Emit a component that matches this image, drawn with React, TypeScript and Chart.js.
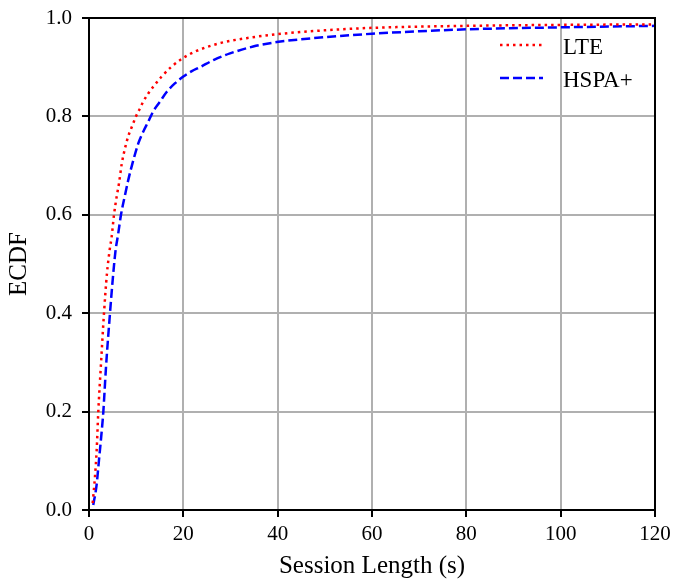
import React, { useEffect, useRef } from "react";
import { Chart, registerables } from "chart.js";

Chart.register(...registerables);

// Session length (s) / ECDF readings — LTE
const lteX = [0.78, 1.27, 1.63, 1.97, 2.5, 3.18, 3.8, 4.4, 4.8, 5.3, 5.87, 6.36, 6.93, 7.63, 8.33, 9.05, 9.96, 10.8, 11.5, 12.6, 13.6, 15.4, 17.5, 20.0, 22.8, 27.8, 33.4, 39.8, 50, 60, 80, 100, 120];
const lteY = [0.014, 0.068, 0.122, 0.2, 0.29, 0.4, 0.48, 0.53, 0.555, 0.6, 0.637, 0.664, 0.703, 0.735, 0.76, 0.778, 0.8, 0.816, 0.83, 0.847, 0.86, 0.881, 0.901, 0.919, 0.933, 0.949, 0.959, 0.967, 0.975, 0.98, 0.984, 0.986, 0.987];

// HSPA+
const hspaX = [0.9, 1.6, 2.1, 2.6, 3.04, 3.6, 4.45, 5.0, 5.6, 6.2, 6.78, 7.63, 8.33, 9.4, 10.45, 11.5, 12.6, 13.6, 15.05, 16.5, 18.2, 20.0, 21.8, 23.5, 26.5, 29.9, 34.8, 39.8, 50, 60, 70, 80, 100, 120];
const hspaY = [0.01, 0.05, 0.1, 0.15, 0.2, 0.29, 0.4, 0.465, 0.525, 0.562, 0.6, 0.64, 0.671, 0.711, 0.745, 0.769, 0.79, 0.81, 0.83, 0.85, 0.867, 0.881, 0.892, 0.9, 0.915, 0.928, 0.942, 0.951, 0.961, 0.968, 0.973, 0.977, 0.981, 0.984];

const seriesLabels = ["LTE", "HSPA+"];
const xTickValues = [0, 20, 40, 60, 80, 100, 120];
const yTickValues = [0, 0.2, 0.4, 0.6, 0.8, 1.0];

const FONT = "'Liberation Serif', 'Times New Roman', serif";

const toPoints = (xs: number[], ys: number[]) => xs.map((x, i) => ({ x, y: ys[i] }));

const framePlugin = {
  id: "frame",
  afterDatasetsDraw(chart: any) {
    const { ctx, chartArea } = chart;
    ctx.save();
    ctx.strokeStyle = "#000";
    ctx.lineWidth = 2;
    ctx.strokeRect(chartArea.left, chartArea.top, chartArea.right - chartArea.left, chartArea.bottom - chartArea.top);
    ctx.restore();
  },
};

const legendPlugin = {
  id: "innerLegend",
  afterDraw(chart: any) {
    const { ctx, chartArea } = chart;
    const ds = chart.data.datasets;
    ctx.save();
    ds.forEach((d: any, i: number) => {
      const ly = chartArea.top + 27 + i * 33;
      ctx.strokeStyle = d.borderColor;
      ctx.lineWidth = d.borderWidth;
      ctx.setLineDash(d.borderDash || []);
      ctx.lineCap = "butt";
      ctx.beginPath();
      ctx.moveTo(chartArea.right - 155, ly);
      ctx.lineTo(chartArea.right - 112, ly);
      ctx.stroke();
      ctx.setLineDash([]);
      ctx.fillStyle = "#000";
      ctx.font = `23px ${FONT}`;
      ctx.textBaseline = "alphabetic";
      ctx.textAlign = "left";
      ctx.fillText(d.label, chartArea.right - 92, ly + 9);
    });
    ctx.restore();
  },
};

export default function App() {
  const canvasRef = useRef<HTMLCanvasElement | null>(null);

  useEffect(() => {
    if (!canvasRef.current) return;
    const chart = new Chart(canvasRef.current, {
      type: "line",
      data: {
        datasets: [
          {
            label: seriesLabels[0],
            data: toPoints(lteX, lteY),
            borderColor: "#ff0000",
            borderWidth: 2.5,
            borderDash: [2.5, 4],
            borderCapStyle: "butt",
            pointRadius: 0,
            fill: false,
            cubicInterpolationMode: "monotone",
          },
          {
            label: seriesLabels[1],
            data: toPoints(hspaX, hspaY),
            borderColor: "#0000ff",
            borderWidth: 2.5,
            borderDash: [9, 4],
            borderCapStyle: "butt",
            pointRadius: 0,
            fill: false,
            cubicInterpolationMode: "monotone",
          },
        ],
      },
      plugins: [framePlugin, legendPlugin],
      options: {
        animation: false,
        responsive: false,
        maintainAspectRatio: false,
        layout: { padding: { top: 18, right: 18, left: 0, bottom: 0 } },
        plugins: {
          legend: { display: false },
          tooltip: { enabled: false },
        },
        scales: {
          x: {
            type: "linear",
            min: 0,
            max: 120,
            afterBuildTicks: (scale: any) => {
              scale.ticks = xTickValues.map((v) => ({ value: v }));
            },
            afterFit: (scale: any) => {
              scale.height = 71;
              scale.paddingLeft = 0;
              scale.paddingRight = 0;
            },
            ticks: {
              color: "#000",
              font: { family: FONT, size: 21, lineHeight: 1.2 },
              padding: 5,
              maxRotation: 0,
              callback: (v: any) => String(v),
            },
            grid: { color: "#b0b0b0", lineWidth: 2, tickColor: "#000", tickLength: 7, tickWidth: 2 },
            border: { color: "#000", width: 2 },
            title: {
              display: true,
              text: "Session Length (s)",
              color: "#000",
              font: { family: FONT, size: 25, lineHeight: 1.2 },
              padding: { top: 0, bottom: 0 },
            },
          },
          y: {
            type: "linear",
            min: 0,
            max: 1,
            afterBuildTicks: (scale: any) => {
              scale.ticks = yTickValues.map((v) => ({ value: v }));
            },
            afterFit: (scale: any) => {
              scale.width = 89;
              scale.paddingTop = 0;
              scale.paddingBottom = 0;
            },
            ticks: {
              color: "#000",
              font: { family: FONT, size: 21, lineHeight: 1.2 },
              padding: 10,
              callback: (v: any) => Number(v).toFixed(1),
            },
            grid: { color: "#b0b0b0", lineWidth: 2, tickColor: "#000", tickLength: 7, tickWidth: 2 },
            border: { color: "#000", width: 2 },
            title: {
              display: true,
              text: "ECDF",
              color: "#000",
              font: { family: FONT, size: 25, lineHeight: 1.2 },
              padding: { top: 4, bottom: 0 },
            },
          },
        },
      },
    } as any);
    return () => chart.destroy();
  }, []);

  return (
    <div style={{ position: "fixed", left: 0, top: 0, width: 673, height: 581, background: "#fff" }}>
      <canvas ref={canvasRef} width={673} height={581} style={{ width: 673, height: 581, display: "block" }} />
    </div>
  );
}
